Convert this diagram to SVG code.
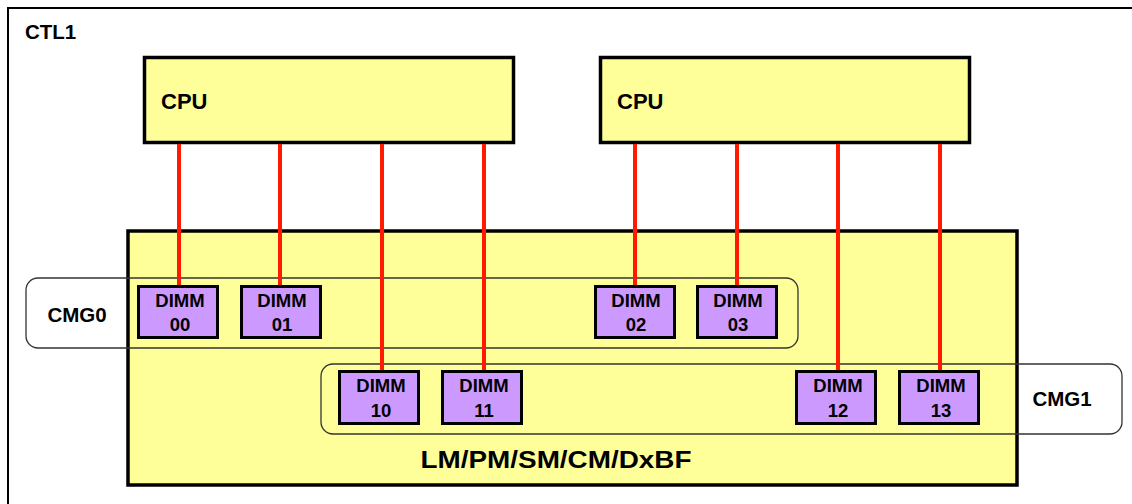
<svg xmlns="http://www.w3.org/2000/svg" width="1132" height="504" viewBox="0 0 1132 504">
<style>
text{font-family:"Liberation Sans",Arial,sans-serif;font-weight:bold;fill:#000}
.cpu{fill:#ffff99;stroke:#000;stroke-width:3.5}
.mem{fill:#ffff99;stroke:#000;stroke-width:3.5}
.cmg{fill:none;stroke:#333;stroke-width:1.3}
.dimm{fill:#cc99ff;stroke:#000;stroke-width:3}
.bus{stroke:#ff1a00;stroke-width:4;fill:none}
.dt{font-size:18.5px;text-anchor:middle}
.lbl{font-size:20.5px}
.cpt{font-size:22px}
</style>
<rect width="1132" height="504" fill="#fff"/>
<g id="ctl1">
<rect x="8" y="8" width="1140" height="520" fill="none" stroke="#000" stroke-width="2"/>
<text class="lbl" x="25" y="39">CTL1</text>
</g>
<g id="cpu0">
<rect class="cpu" x="144.5" y="57.5" width="369" height="85"/>
<text class="cpt" x="161" y="109">CPU</text>
</g>
<g id="cpu1">
<rect class="cpu" x="600.5" y="57.5" width="369" height="85"/>
<text class="cpt" x="617" y="109">CPU</text>
</g>
<g id="memory">
<rect class="mem" x="128" y="231" width="889" height="254"/>
<text x="556" y="468" font-size="24" text-anchor="middle" textLength="271" lengthAdjust="spacingAndGlyphs">LM/PM/SM/CM/DxBF</text>
</g>
<g id="cmg0">
<rect class="cmg" x="26" y="278" width="772" height="70" rx="12"/>
<text class="lbl" x="77" y="322" text-anchor="middle">CMG0</text>
</g>
<g id="cmg1">
<rect class="cmg" x="321" y="364" width="801" height="70" rx="12"/>
<text class="lbl" x="1062" y="406" text-anchor="middle">CMG1</text>
</g>
<g id="connectors">
<line class="bus" x1="179" y1="144" x2="179" y2="286"/>
<line class="bus" x1="280" y1="144" x2="280" y2="286"/>
<line class="bus" x1="382" y1="144" x2="382" y2="371"/>
<line class="bus" x1="484" y1="144" x2="484" y2="371"/>
<line class="bus" x1="635" y1="144" x2="635" y2="286"/>
<line class="bus" x1="737" y1="144" x2="737" y2="286"/>
<line class="bus" x1="838" y1="144" x2="838" y2="371"/>
<line class="bus" x1="940" y1="144" x2="940" y2="371"/>
</g>
<g id="dimm00"><rect class="dimm" x="138.5" y="286.5" width="79" height="51"/><text class="dt" x="180" y="307">DIMM</text><text class="dt" x="180" y="331">00</text></g>
<g id="dimm01"><rect class="dimm" x="241.5" y="286.5" width="79" height="51"/><text class="dt" x="282" y="307">DIMM</text><text class="dt" x="282" y="331">01</text></g>
<g id="dimm02"><rect class="dimm" x="595.5" y="286.5" width="79" height="51"/><text class="dt" x="636" y="307">DIMM</text><text class="dt" x="636" y="331">02</text></g>
<g id="dimm03"><rect class="dimm" x="697.5" y="286.5" width="79" height="51"/><text class="dt" x="738" y="307">DIMM</text><text class="dt" x="738" y="331">03</text></g>
<g id="dimm10"><rect class="dimm" x="339.5" y="371.5" width="79" height="52"/><text class="dt" x="381" y="392">DIMM</text><text class="dt" x="381" y="417">10</text></g>
<g id="dimm11"><rect class="dimm" x="442.5" y="371.5" width="79" height="52"/><text class="dt" x="484" y="392">DIMM</text><text class="dt" x="484" y="417">11</text></g>
<g id="dimm12"><rect class="dimm" x="796.5" y="371.5" width="79" height="52"/><text class="dt" x="838" y="392">DIMM</text><text class="dt" x="838" y="417">12</text></g>
<g id="dimm13"><rect class="dimm" x="899.5" y="371.5" width="79" height="52"/><text class="dt" x="941" y="392">DIMM</text><text class="dt" x="941" y="417">13</text></g>
</svg>
